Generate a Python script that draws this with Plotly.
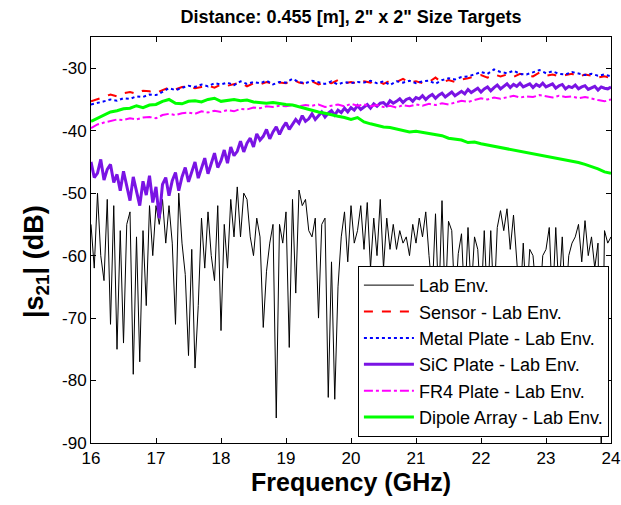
import numpy as np
import plotly.graph_objects as go

# Frequency grids (GHz)
freq_fine = np.round(np.arange(16.0, 24.0001, 0.05), 2)    # 161 points
freq_coarse = np.round(np.arange(16.0, 24.0001, 0.1), 1)   # 81 points

lab_env = [
    -55, -62, -50, -60, -64, -51, -71, -52, -75, -56,
    -74, -55, -53, -79, -57, -77, -56, -68, -52, -60,
    -52, -55, -51, -58, -52, -58, -71, -50, -58, -63,
    -76, -59, -78, -68, -54, -62, -53, -60, -64, -52,
    -72, -55, -62, -51, -57, -49, -57, -50, -51, -57,
    -60, -54, -57, -71.5, -62.5, -58, -55, -86, -55, -58,
    -53, -74.7, -51, -66, -49.5, -52, -51, -56, -57, -54,
    -70, -55, -54, -82.7, -61, -83, -65, -57, -53, -61,
    -52, -58, -56, -52, -59, -51.5, -62, -54, -60, -51,
    -62, -54, -59, -55, -59, -56, -58, -57, -60, -55,
    -58, -54, -57, -53, -60, -66, -53.3, -68, -51.2, -68,
    -54.5, -56, -68, -59.7, -56.5, -68, -55.5, -66, -57, -59,
    -68, -56, -68, -56, -68, -55.5, -52.8, -56, -52.5, -59,
    -53.5, -61, -68, -58, -68, -59, -60, -66, -68, -60,
    -59, -55.5, -68, -55.5, -66, -57, -68, -60, -58, -57,
    -55, -61, -54.4, -60, -57, -62, -58, -92, -56, -58,
    -57,
]

sensor = [
    -35.3, -35.0, -34.6, -34.2, -34.5, -34.0, -33.8, -34.1, -33.6, -33.7,
    -34.0, -33.5, -33.1, -33.4, -33.0, -32.9, -33.2, -33.0, -32.8, -33.1,
    -32.6, -32.8, -32.5, -32.3, -32.9, -32.4, -32.6, -32.2, -32.5, -32.3,
    -32.4, -31.8, -32.3, -32.5, -32.1, -32.6, -32.3, -32.4, -31.9, -32.4,
    -32.2, -32.5, -32.1, -32.3, -32.0, -32.5, -32.0, -32.2, -31.7, -32.3,
    -32.1, -32.4, -32.2, -31.5, -32.3, -31.9, -32.2, -31.8, -31.6, -31.4,
    -31.1, -31.5, -31.0, -31.3, -31.0, -31.4, -30.9, -31.2, -31.3, -30.7,
    -31.2, -31.0, -31.3, -31.1, -30.9, -31.4, -31.0, -31.2, -31.5, -31.3,
    -31.6,
]

metal_plate = [
    -35.8, -35.6, -35.3, -35.0, -35.2, -34.8, -34.9, -34.5, -34.6, -34.2,
    -34.3, -33.8, -33.2, -33.5, -33.1, -32.8, -33.0, -32.6, -32.9, -32.4,
    -32.6, -32.3, -32.7, -32.1, -32.5, -32.2, -32.4, -32.0, -32.6, -32.2,
    -32.3, -31.7, -32.2, -32.4, -32.0, -32.3, -32.5, -32.1, -32.6, -32.2,
    -32.4, -32.2, -32.3, -32.0, -32.4, -32.1, -32.7, -32.1, -32.3, -32.0,
    -32.4, -32.1, -32.0, -32.5, -31.9, -31.6, -31.8, -31.4, -31.3, -31.0,
    -30.6, -30.9, -30.2, -30.6, -30.8, -30.4, -30.9, -31.0, -30.6, -30.3,
    -30.8, -30.5, -30.9, -31.0, -30.6, -30.8, -31.1, -30.9, -31.2, -31.0,
    -31.3,
]

sic_plate = [
    -45.0, -47.5, -46.8, -44.6, -47.9, -46.2, -45.4, -48.3, -47.0, -49.6,
    -46.5, -48.8, -51.2, -47.4, -49.9, -52.0, -48.1, -50.3, -47.2, -51.5,
    -49.0, -54.0, -48.6, -47.5, -50.4, -48.0, -46.7, -49.6, -47.4, -45.9,
    -48.2, -46.4, -45.0, -47.6, -45.8, -44.4, -46.9, -45.1, -43.6, -45.9,
    -44.8, -43.1, -45.2, -42.6, -44.0, -43.3, -41.7, -43.4, -42.0, -41.2,
    -42.6, -40.5, -41.5, -40.9, -39.8, -41.3, -40.2, -39.4, -40.6, -39.5,
    -38.7, -39.8, -38.9, -38.2, -38.8, -37.6, -38.5, -38.1, -37.3, -38.2,
    -37.6, -37.0, -37.8, -37.2, -36.8, -37.5, -36.7, -37.1, -36.4, -37.0,
    -36.3, -36.7, -36.0, -36.6, -36.2, -35.8, -36.4, -35.7, -36.1, -35.6,
    -35.5, -36.0, -35.2, -35.6, -35.3, -34.9, -35.5, -35.0, -34.8, -35.3,
    -34.7, -34.9, -34.4, -35.0, -34.5, -34.2, -34.8, -34.3, -34.0, -34.6,
    -34.2, -33.8, -34.4, -34.0, -33.7, -34.1, -33.4, -33.9, -33.6, -33.2,
    -33.8, -33.3, -33.0, -33.6, -33.1, -32.7, -33.3, -32.9, -32.5, -33.1,
    -32.6, -32.9, -32.4, -33.0, -32.7, -32.5, -33.1, -32.6, -32.9, -32.4,
    -33.0, -32.7, -32.5, -33.2, -32.8, -32.6, -33.3, -32.9, -33.1, -32.7,
    -33.3, -33.0, -32.8, -33.4, -33.1, -32.9, -33.5, -33.0, -33.2, -33.3,
    -33.0,
]

fr4_plate = [
    -39.6, -39.0, -38.7, -38.4, -38.2, -38.3, -38.0, -38.2, -37.9, -37.8,
    -38.0, -37.5, -37.3, -37.5, -37.2, -37.1, -37.3, -36.9, -37.1, -36.8,
    -37.0, -36.7, -36.9, -36.5, -36.6, -36.3, -36.4, -36.1, -36.2, -36.0,
    -36.1, -35.9, -36.1, -35.9, -36.0, -35.8, -36.2, -36.0, -35.8, -36.1,
    -35.7, -36.0, -35.8, -36.1, -35.9, -36.2, -36.0, -36.3, -35.9, -36.1,
    -35.8, -36.0, -35.7, -35.9, -35.6, -35.8, -35.5, -35.2, -35.4, -35.1,
    -34.8, -35.0, -34.7, -34.9, -34.6, -34.4, -34.7, -34.5, -34.6, -34.3,
    -34.5, -34.7, -34.4, -34.6, -34.5, -34.8, -34.6, -34.9, -35.1, -35.3,
    -35.0,
]

dipole_array = [
    -38.5, -38.0, -37.5, -37.0, -36.8, -36.5, -36.4, -36.0, -36.3, -35.9,
    -35.8, -35.3, -35.0, -35.6, -35.7, -35.3, -35.2, -35.4, -35.0, -34.8,
    -35.3, -35.2, -35.0, -35.2, -35.1, -35.4, -35.5, -35.6, -35.5, -35.7,
    -35.8, -35.9, -36.2, -36.5, -36.8, -37.0, -37.2, -37.5, -37.7, -37.9,
    -38.2, -37.9, -38.6, -38.9, -39.2, -39.4, -39.5, -39.7, -40.0, -40.2,
    -40.1, -40.3, -40.5, -40.7, -40.8, -41.2, -41.4, -41.5, -41.9, -41.8,
    -42.1, -42.3, -42.4, -42.7, -42.8, -43.0, -43.3, -43.5, -43.6, -43.9,
    -44.1, -44.2, -44.5, -44.7, -44.8, -45.1, -45.4, -45.7, -46.1, -46.6,
    -46.8,
]

x_ticks = [16, 17, 18, 19, 20, 21, 22, 23, 24]
y_ticks = [-90, -80, -70, -60, -50, -40, -30]

FONT = "Arial, Liberation Sans, sans-serif"

fig = go.Figure()
fig.add_trace(go.Scatter(x=freq_fine, y=lab_env, mode="lines", name="Lab Env.",
                         line=dict(color="black", width=1)))
fig.add_trace(go.Scatter(x=freq_coarse, y=sensor, mode="lines", name="Sensor - Lab Env.",
                         line=dict(color="#FF0000", width=2, dash="dash")))
fig.add_trace(go.Scatter(x=freq_coarse, y=metal_plate, mode="lines", name="Metal Plate - Lab Env.",
                         line=dict(color="#0000FF", width=2, dash="dot")))
fig.add_trace(go.Scatter(x=freq_fine, y=sic_plate, mode="lines", name="SiC Plate - Lab Env.",
                         line=dict(color="#7A14E4", width=3)))
fig.add_trace(go.Scatter(x=freq_coarse, y=fr4_plate, mode="lines", name="FR4 Plate - Lab Env.",
                         line=dict(color="#FF00FF", width=2, dash="dashdot")))
fig.add_trace(go.Scatter(x=freq_coarse, y=dipole_array, mode="lines", name="Dipole Array - Lab Env.",
                         line=dict(color="#00FF00", width=3)))

fig.update_layout(
    width=621, height=505,
    margin=dict(l=91, r=10, t=37, b=62, autoexpand=False),
    paper_bgcolor="white", plot_bgcolor="white",
    font=dict(family=FONT, size=17, color="black"),
    title=dict(text="<b>Distance: 0.455 [m], 2\" x 2\" Size Targets</b>",
               x=0.5, xref="paper", xanchor="center", y=1 - 17/505, yref="container",
               yanchor="middle", font=dict(size=18, family=FONT)),
    showlegend=True,
    legend=dict(x=0.996, y=0.015, xanchor="right", yanchor="bottom",
                bgcolor="white", bordercolor="black", borderwidth=1,
                font=dict(size=18, family=FONT), tracegroupgap=0, itemwidth=50),
    annotations=[dict(text="<b>|s<sub>21</sub>| (dB)</b>", textangle=-90,
                      xref="paper", yref="paper", x=-(91 - 36) / 520, y=(443 - 262) / 406,
                      xanchor="center", yanchor="middle", showarrow=False,
                      font=dict(size=27, family=FONT))],
)
fig.update_xaxes(range=[16, 24], tickvals=x_ticks, ticktext=[str(v) for v in x_ticks],
                 ticks="inside", ticklen=5, tickcolor="black", showline=True,
                 linecolor="black", linewidth=1, mirror="ticks", showgrid=False,
                 zeroline=False, tickfont=dict(size=17),
                 title=dict(text="<b>Frequency (GHz)</b>", font=dict(size=25), standoff=6))
fig.update_yaxes(range=[-90, -25], tickvals=y_ticks, ticktext=[str(v) for v in y_ticks],
                 ticks="inside", ticklen=5, tickcolor="black", showline=True,
                 linecolor="black", linewidth=1, mirror="ticks", showgrid=False,
                 zeroline=False, tickfont=dict(size=17))

fig.write_html("out.html")
